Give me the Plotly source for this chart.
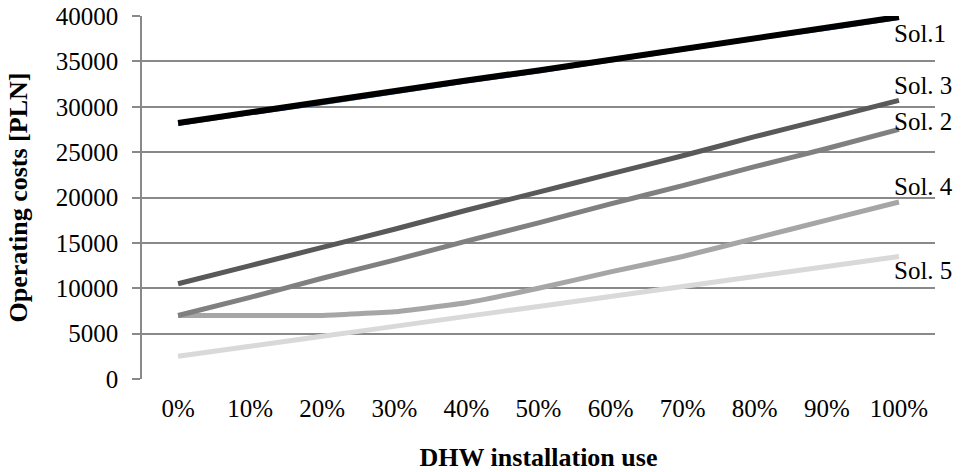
import plotly.graph_objects as go

# DHW installation use levels
categories = ["0%", "10%", "20%", "30%", "40%", "50%", "60%", "70%", "80%", "90%", "100%"]

# Operating costs [PLN] for each solution
sol1 = [28200, 29400, 30500, 31700, 32900, 34000, 35200, 36400, 37600, 38700, 39900]
sol1_base = [27950, 29150, 30250, 31450, 32650, 33750, 34950, 36150, 37350, 38450, 39650]
sol2 = [7000, 9000, 11100, 13100, 15200, 17200, 19300, 21300, 23400, 25400, 27500]
sol3 = [10500, 12500, 14500, 16500, 18600, 20600, 22600, 24600, 26700, 28700, 30700]
sol4 = [7000, 7000, 7000, 7400, 8400, 10000, 11800, 13500, 15500, 17500, 19500]
sol5 = [2500, 3600, 4700, 5800, 6900, 8000, 9100, 10200, 11300, 12400, 13500]

series = [
    ("Sol. 5", sol5, "#d9d9d9", 5, -14),
    ("Sol. 4", sol4, "#a6a6a6", 5, 16),
    ("Sol. 2", sol2, "#808080", 5, 8),
    ("Sol. 3", sol3, "#595959", 5, 15),
]

FONT = "Liberation Serif, Times New Roman, serif"

fig = go.Figure()

# thin blue base line running just beneath Sol.1
fig.add_trace(go.Scatter(x=categories, y=sol1_base, mode="lines",
                         line=dict(color="#4f81bd", width=1.5), showlegend=False,
                         hoverinfo="skip"))

for name, vals, color, width, _ in series:
    fig.add_trace(go.Scatter(x=categories, y=vals, mode="lines", name=name,
                             line=dict(color=color, width=width, shape="spline",
                                       smoothing=0.3),
                             showlegend=False))

fig.add_trace(go.Scatter(x=categories, y=sol1, mode="lines", name="Sol.1",
                         line=dict(color="#000000", width=6), showlegend=False))

# end-of-line labels
labels = [("Sol.1", sol1, -17)] + [(n, v, s) for n, v, _, _, s in series]
for text, vals, yshift in labels:
    fig.add_annotation(x=categories[-1], y=vals[-1], text=text, showarrow=False,
                       xanchor="left", yanchor="middle", xshift=-7, yshift=yshift,
                       font=dict(family=FONT, size=25, color="#000000"))

fig.update_layout(
    width=965, height=472,
    margin=dict(l=142, r=30, t=16, b=93),
    paper_bgcolor="white", plot_bgcolor="white",
    font=dict(family=FONT, size=25, color="#000000"),
    xaxis=dict(
        type="category", range=[-0.5, 10.5], showgrid=False, zeroline=False,
        showline=False, ticks="", automargin=False, ticklabelstandoff=12,
        tickfont=dict(family=FONT, size=25),
        title=dict(text="<b>DHW installation use</b>", standoff=29,
                   font=dict(family=FONT, size=26)),
    ),
    yaxis=dict(
        range=[0, 40000], dtick=5000, tickformat="d", showgrid=True,
        gridcolor="#898989", gridwidth=1.5, zeroline=False, showline=True,
        linecolor="#898989", linewidth=1.5, ticks="outside", ticklen=8,
        tickcolor="#898989", tickwidth=1.5, automargin=False,
        ticklabelstandoff=9, tickfont=dict(family=FONT, size=25),
        title=dict(text="<b>Operating costs [PLN]</b>", standoff=21,
                   font=dict(family=FONT, size=26)),
    ),
)

fig.write_html("out.html")
